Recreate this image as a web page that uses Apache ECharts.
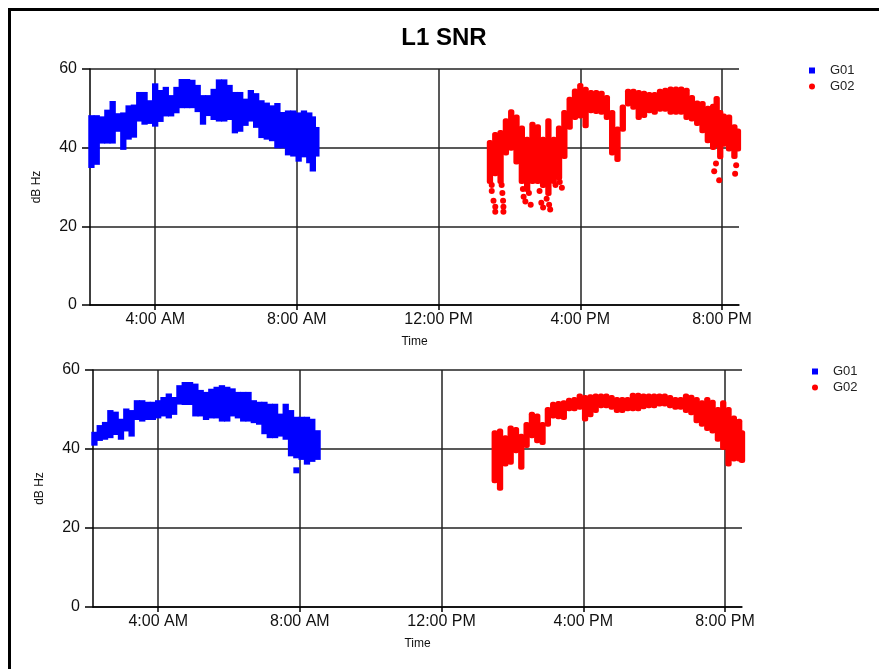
<!DOCTYPE html>
<html><head><meta charset="utf-8">
<script src="https://cdn.jsdelivr.net/npm/echarts@6/dist/echarts.min.js"></script>
<style>html,body{margin:0;padding:0;background:#fff}#c{width:888px;height:669px}</style>
</head><body><div id="c"></div>
<script>
// ---- axis ticks ----
const timeTickHours = [4, 8, 12, 16, 20];
const timeTickLabels = ['4:00 AM', '8:00 AM', '12:00 PM', '4:00 PM', '8:00 PM'];
const X_MIN = 2.16, X_MAX = 20.48;   // hours of day

// ---- upper panel, G01 (hour, low, high dB Hz) ----
const g01TopTime = [2.2, 2.35, 2.5, 2.65, 2.8, 2.95, 3.1, 3.25, 3.4, 3.55, 3.7, 3.85, 4.0, 4.15, 4.3, 4.45, 4.6, 4.75, 4.9, 5.05, 5.2, 5.35, 5.5, 5.65, 5.8, 5.95, 6.1, 6.25, 6.4, 6.55, 6.7, 6.85, 7.0, 7.15, 7.3, 7.45, 7.6, 7.75, 7.9, 8.05, 8.2, 8.35, 8.45, 8.55];
const g01TopHi = [47.5, 47.5, 47.2, 48.9, 51.1, 48.0, 48.2, 50.0, 50.2, 53.4, 53.4, 51.3, 55.6, 53.9, 54.7, 52.6, 54.7, 56.7, 56.7, 56.5, 55.2, 52.6, 52.6, 54.2, 56.6, 56.6, 55.2, 53.4, 53.4, 51.7, 53.9, 53.1, 51.3, 50.7, 50.0, 50.6, 48.3, 48.7, 48.7, 48.2, 48.7, 48.2, 47.2, 44.5];
const g01TopLo = [35.6, 36.4, 41.8, 41.8, 41.8, 44.8, 40.2, 42.8, 43.3, 47.4, 46.6, 46.8, 46.1, 47.3, 48.7, 48.7, 49.5, 50.8, 50.8, 50.8, 49.8, 46.6, 48.8, 47.8, 47.4, 47.4, 47.8, 44.4, 44.8, 46.3, 47.4, 45.8, 43.2, 42.8, 42.4, 40.6, 40.6, 38.8, 38.5, 37.2, 38.3, 36.8, 34.7, 38.5];

// ---- upper panel, G02 ----
const g02TopTime = [13.45, 13.6, 13.75, 13.9, 14.05, 14.2, 14.35, 14.5, 14.65, 14.8, 14.95, 15.1, 15.25, 15.4, 15.55, 15.7, 15.85, 16.0, 16.15, 16.3, 16.45, 16.6, 16.75, 16.9, 17.05, 17.2, 17.35, 17.5, 17.65, 17.8, 17.95, 18.1, 18.25, 18.4, 18.55, 18.7, 18.85, 19.0, 19.15, 19.3, 19.45, 19.6, 19.75, 19.85, 19.95, 20.05, 20.2, 20.35, 20.45];
const g02TopHi = [41.2, 43.2, 43.7, 46.7, 49.0, 47.7, 44.9, 42.0, 45.8, 45.2, 42.0, 46.7, 42.0, 44.9, 48.8, 52.2, 54.3, 55.7, 54.7, 53.9, 53.9, 53.7, 52.6, 48.8, 44.6, 50.2, 54.2, 54.2, 53.9, 53.7, 53.4, 53.4, 54.2, 54.5, 54.8, 54.8, 54.8, 54.5, 52.6, 51.2, 51.1, 49.9, 50.4, 52.4, 48.8, 47.9, 47.7, 45.2, 44.1];
const g02TopLo = [31.5, 33.5, 31.5, 38.8, 40.0, 36.5, 31.5, 29.5, 31.5, 31.5, 30.5, 28.5, 31.5, 32.5, 37.9, 45.3, 47.8, 48.2, 45.7, 49.5, 49.3, 49.1, 47.8, 38.8, 37.1, 44.8, 51.2, 50.4, 47.8, 48.3, 49.5, 49.1, 49.9, 49.9, 49.1, 49.1, 49.1, 47.8, 47.4, 46.3, 44.4, 41.9, 40.2, 40.8, 37.8, 41.0, 39.8, 37.9, 39.8];
const g02TopDotTime = [13.5, 13.5, 13.55, 13.6, 13.6, 13.78, 13.8, 13.82, 13.83, 13.83, 14.38, 14.4, 14.45, 14.55, 14.6, 14.85, 14.9, 14.95, 15.05, 15.12, 15.15, 15.3, 15.42, 15.48, 19.78, 19.83, 19.92, 20.37, 20.4];
const g02TopDotVal = [30.5, 29, 26.5, 25, 23.7, 30.5, 28.5, 26.5, 25, 23.7, 29.5, 27.5, 26.3, 28.5, 25.5, 29, 26, 24.8, 27, 25.5, 24.3, 30.5, 31.3, 29.8, 34, 36, 31.7, 33.4, 35.5];

// ---- lower panel, G01 ----
const g01BotTime = [2.2, 2.35, 2.5, 2.65, 2.8, 2.95, 3.1, 3.25, 3.4, 3.55, 3.7, 3.85, 4.0, 4.15, 4.3, 4.45, 4.6, 4.75, 4.9, 5.05, 5.2, 5.35, 5.5, 5.65, 5.8, 5.95, 6.1, 6.25, 6.4, 6.55, 6.7, 6.85, 7.0, 7.15, 7.3, 7.45, 7.6, 7.75, 7.9, 8.05, 8.2, 8.35, 8.5];
const g01BotHi = [43.6, 45.3, 46.1, 49.1, 48.7, 46.9, 49.5, 49.1, 51.6, 51.6, 51.2, 51.2, 51.6, 52.4, 53.3, 52.4, 55.4, 56.2, 56.2, 55.8, 54.2, 53.7, 54.5, 55.0, 55.4, 55.0, 54.6, 53.7, 53.7, 53.7, 51.6, 51.2, 51.2, 50.7, 50.7, 48.2, 50.7, 49.1, 47.4, 47.4, 47.4, 46.9, 44.0];
const g01BotLo = [41.6, 42.8, 43.1, 43.5, 44.3, 43.1, 45.2, 43.9, 48.1, 47.7, 48.1, 48.1, 48.5, 49.0, 48.5, 49.4, 52.0, 51.9, 51.9, 49.0, 49.0, 48.1, 48.5, 48.5, 47.7, 47.7, 49.0, 48.5, 47.7, 47.7, 47.3, 46.9, 44.5, 43.5, 43.5, 43.9, 43.1, 38.9, 38.4, 38.0, 36.8, 37.5, 38.0];
const g01BotDotTime = [7.9];
const g01BotDotVal = [34.6];

// ---- lower panel, G02 ----
const g02BotTime = [13.5, 13.65, 13.8, 13.95, 14.1, 14.25, 14.4, 14.55, 14.7, 14.85, 15.0, 15.15, 15.3, 15.45, 15.6, 15.75, 15.9, 16.05, 16.2, 16.35, 16.5, 16.65, 16.8, 16.95, 17.1, 17.25, 17.4, 17.55, 17.7, 17.85, 18.0, 18.15, 18.3, 18.45, 18.6, 18.75, 18.9, 19.05, 19.2, 19.35, 19.5, 19.65, 19.8, 19.95, 20.1, 20.25, 20.4, 20.48];
const g02BotHi = [44.0, 44.4, 42.7, 45.2, 44.8, 43.1, 46.1, 48.7, 48.2, 46.1, 49.9, 51.2, 51.4, 51.6, 52.2, 52.4, 53.3, 52.9, 53.1, 53.3, 53.3, 53.3, 52.9, 52.4, 52.4, 52.4, 53.5, 53.5, 53.3, 53.3, 53.3, 53.3, 53.3, 52.9, 52.4, 52.4, 53.3, 53.0, 52.4, 51.6, 52.4, 51.7, 49.9, 51.6, 49.9, 47.7, 46.9, 44.0];
const g02BotLo = [32.1, 30.2, 36.3, 36.8, 39.7, 35.5, 41.0, 43.5, 42.2, 41.8, 46.4, 48.5, 48.3, 48.1, 50.3, 50.3, 50.7, 47.7, 48.8, 49.9, 51.1, 51.1, 50.7, 49.9, 49.9, 50.3, 50.3, 50.3, 50.8, 51.1, 51.1, 51.5, 51.5, 51.1, 50.7, 50.7, 49.9, 49.3, 47.3, 46.4, 45.3, 44.7, 42.6, 40.5, 36.3, 37.6, 37.6, 37.2];

const BLUE = '#0000ff', RED = '#ff0000';
const HALF = 0.075;   // half sampling step, hours
const PAD = 3;        // marker half size, px

function bandSeries(name, gi, t, lo, hi, color, round) {
  return {
    type: 'custom', name: name, xAxisIndex: gi, yAxisIndex: gi,
    data: t.map((v, i) => [v, lo[i], hi[i]]),
    encode: { x: 0, y: [1, 2] },
    itemStyle: { color: color },
    renderItem: function (params, api) {
      const tt = api.value(0), l = api.value(1), h = api.value(2);
      const a = api.coord([tt - HALF, h]);
      const b = api.coord([tt + HALF, l]);
      return {
        type: 'rect',
        shape: { x: a[0] - 0.5, y: a[1] - PAD, width: b[0] - a[0] + 1, height: b[1] - a[1] + 2 * PAD, r: round ? 2.5 : 0 },
        style: { fill: color }
      };
    }
  };
}
function dotSeries(name, gi, t, v, color, symbol) {
  return {
    type: 'scatter', name: name, xAxisIndex: gi, yAxisIndex: gi,
    data: t.map((x, i) => [x, v[i]]), symbol: symbol, symbolSize: 6,
    itemStyle: { color: color, opacity: 1 }
  };
}
function xAxisCfg(gi) {
  return {
    type: 'value', gridIndex: gi, min: X_MIN, max: X_MAX,
    name: 'Time', nameLocation: 'middle', nameGap: 31,
    nameTextStyle: { fontSize: 12, color: '#111', fontFamily: 'Liberation Sans' },
    axisLine: { show: true, onZero: false, lineStyle: { color: '#000', width: 1.5 } },
    axisTick: { show: true, customValues: timeTickHours, length: 5, lineStyle: { color: '#000', width: 1.5 } },
    axisLabel: {
      customValues: timeTickHours, fontSize: 16, color: '#111', margin: 7, fontFamily: 'Liberation Sans',
      formatter: v => timeTickLabels[timeTickHours.indexOf(Math.round(v))]
    },
    splitLine: { show: true, lineStyle: { color: '#222', width: 1.5 } }
  };
}
function yAxisCfg(gi) {
  return {
    type: 'value', gridIndex: gi, min: 0, max: 60, interval: 20,
    name: 'dB Hz', nameLocation: 'middle', nameGap: 47, nameRotate: 90,
    nameTextStyle: { fontSize: 12, color: '#111', fontFamily: 'Liberation Sans' },
    axisLine: { show: true, lineStyle: { color: '#000', width: 1.5 } },
    axisTick: { show: true, length: 8, lineStyle: { color: '#000', width: 1.5 } },
    axisLabel: { fontSize: 16, color: '#111', margin: 13, fontFamily: 'Liberation Sans' },
    splitLine: { show: true, lineStyle: { color: '#222', width: 1.5 } }
  };
}
function legendCfg(left, top) {
  return {
    orient: 'vertical', left: left, top: top, padding: 0, itemGap: 3,
    itemWidth: 6, itemHeight: 6,
    textStyle: { fontSize: 13, color: '#222', padding: [0, 0, 0, 10], fontFamily: 'Liberation Sans' },
    data: [{ name: 'G01', icon: 'rect' }, { name: 'G02', icon: 'circle' }]
  };
}

const chart = echarts.init(document.getElementById('c'), null, { renderer: 'canvas' });
chart.setOption({
  animation: false,
  backgroundColor: '#fff',
  title: { text: 'L1 SNR', left: 'center', top: 21, textStyle: { fontSize: 24, fontWeight: 'bold', color: '#000', fontFamily: 'Liberation Sans' } },
  grid: [
    { left: 90, top: 69, width: 649, height: 236 },
    { left: 93, top: 370, width: 649, height: 237 }
  ],
  xAxis: [xAxisCfg(0), xAxisCfg(1)],
  yAxis: [yAxisCfg(0), yAxisCfg(1)],
  legend: [legendCfg(809, 64), legendCfg(812, 365)],
  graphic: [
    { type: 'line', shape: { x1: 8, y1: 9.5, x2: 879, y2: 9.5 }, style: { stroke: '#000', lineWidth: 3 } },
    { type: 'line', shape: { x1: 9.5, y1: 8, x2: 9.5, y2: 669 }, style: { stroke: '#000', lineWidth: 3 } }
  ],
  series: [
    bandSeries('G01', 0, g01TopTime, g01TopLo, g01TopHi, BLUE, false),
    bandSeries('G02', 0, g02TopTime, g02TopLo, g02TopHi, RED, true),
    dotSeries('G02', 0, g02TopDotTime, g02TopDotVal, RED, 'circle'),
    bandSeries('G01', 1, g01BotTime, g01BotLo, g01BotHi, BLUE, false),
    dotSeries('G01', 1, g01BotDotTime, g01BotDotVal, BLUE, 'rect'),
    bandSeries('G02', 1, g02BotTime, g02BotLo, g02BotHi, RED, true)
  ]
});
</script></body></html>
